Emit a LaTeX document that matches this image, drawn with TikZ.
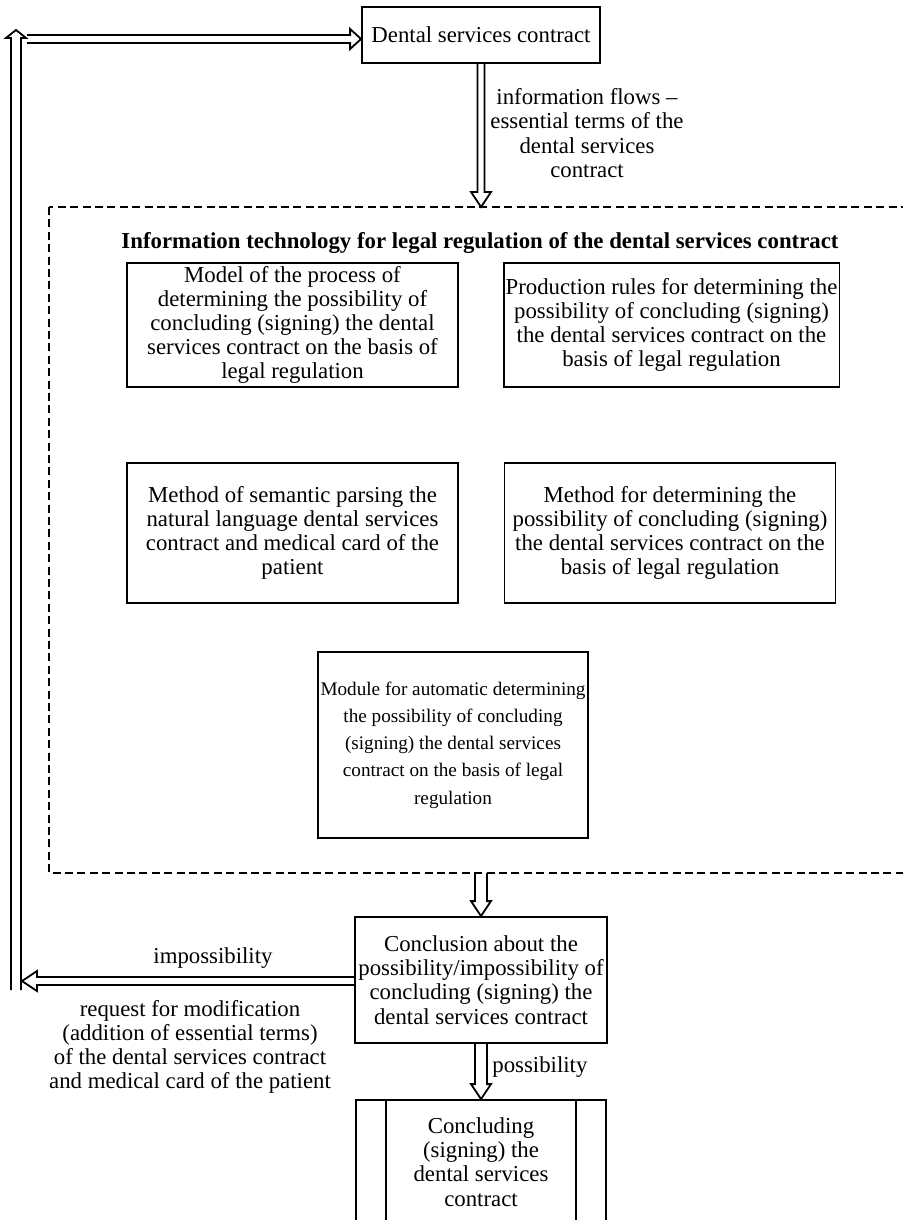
\documentclass[tikz,border=0pt]{standalone}
\usepackage{fontspec}
\setmainfont{Liberation Serif}
\usetikzlibrary{calc,positioning}

\begin{document}
\begin{tikzpicture}[x=0.5pt,y=-0.5pt,
  every node/.style={font=\fontsize{11.4}{12.1}\selectfont},
  box/.style={draw,line width=0.9pt,align=center,inner sep=1pt},
  lbl/.style={align=center,inner sep=0pt},
  frame/.style={line width=0.75pt,dash pattern=on 4pt off 2.2pt},
  shaft/.store in=\shaftw, shaft=2.5pt,
  hlen/.store in=\headl, hlen=7.5pt,
  hollow/.style={line width=0.9pt,line join=miter,
    to path={let \p1=(\tikztostart),\p2=(\tikztotarget),
      \n1={atan2(\y2-\y1,\x2-\x1)},\p3=($(\p2)+(\n1+180:\headl)$) in
      ([shift={(\n1+90:\shaftw)}]\p1) -- ([shift={(\n1+90:\shaftw)}]\p3)
      -- ([shift={(\n1+90:5pt)}]\p3) -- (\p2) -- ([shift={(\n1-90:5pt)}]\p3)
      -- ([shift={(\n1-90:\shaftw)}]\p3) -- ([shift={(\n1-90:\shaftw)}]\p1)}}]
\useasboundingbox (0,0) rectangle (903,1220);
\clip (0,0) rectangle (903,1220);

% dashed frame of the information technology
\coordinate (fnw) at (49,207);
\coordinate (fse) at (960,873);
\draw[frame] (fnw) rectangle (fse);

\node[box,minimum width=119pt,minimum height=28pt] (contract) at (481,35) {Dental services contract};
\node[lbl] (flows) at (587,133) {information flows --\\essential terms of the\\dental services\\contract};
\node[lbl] (title) at (480,243) {\bfseries Information technology for legal regulation of the dental services contract};

\node[box,minimum width=165.5pt,minimum height=62pt] (model) at (292.5,325) {Model of the process of\\determining the possibility of\\concluding (signing) the dental\\services contract on the basis of\\legal regulation};
\node[box,minimum width=165.5pt,minimum height=62pt] (rules) at (671.5,325) {Production rules for determining the\\possibility of concluding (signing)\\the dental services contract on the\\basis of legal regulation};
\node[box,minimum width=165.5pt,minimum height=70pt] (parse) at (292.5,533) {Method of semantic parsing the\\natural language dental services\\contract and medical card of the\\patient};
\node[box,minimum width=165.5pt,minimum height=70pt] (method) at (670,533) {Method for determining the\\possibility of concluding (signing)\\the dental services contract on the\\basis of legal regulation};
\node[box,minimum width=135pt,minimum height=93pt,font=\fontsize{9.6}{13.6}\selectfont] (module) at (453,745) {Module for automatic determining\\the possibility of concluding\\(signing) the dental services\\contract on the basis of legal\\regulation};

\node[box,minimum width=126pt,minimum height=63pt] (concl) at (481,980) {Conclusion about the\\possibility/impossibility of\\concluding (signing) the\\dental services contract};
\node[box,minimum width=125pt,minimum height=62pt] (sign) at (481,1162) {Concluding\\(signing) the\\dental services\\contract};
\draw[line width=0.9pt] ([xshift=15.5pt]sign.north west) -- ([xshift=15.5pt]sign.south west);
\draw[line width=0.9pt] ([xshift=-15.5pt]sign.north east) -- ([xshift=-15.5pt]sign.south east);

\node[lbl,anchor=west] (poss) at (492,1067) {possibility};
\node[lbl] (imposs) at (213,958) {impossibility};
\node[lbl] (req) at (190,1047) {request for modification\\(addition of essential terms)\\of the dental services contract\\and medical card of the patient};

% hollow double arrows
\coordinate (lh) at (22,981);
\coordinate (lb) at (16,990);
\coordinate (lt) at (16,30);
\coordinate (ls) at (27,39);
\draw[hollow,shaft=1.75pt] (contract.south) to (contract.south |- fnw);
\draw[hollow,shaft=3pt] (concl.north |- fse) to (concl.north);
\draw[hollow,shaft=3pt] (concl.south) to (sign.north);
\draw[hollow,shaft=2pt] (concl.west |- lh) to (lh);
\draw[hollow,shaft=2.5pt,hlen=4pt] (lb) to (lt);
\draw[hollow,shaft=2pt,hlen=5.5pt] (ls) to (ls -| contract.west);
\end{tikzpicture}
\end{document}
